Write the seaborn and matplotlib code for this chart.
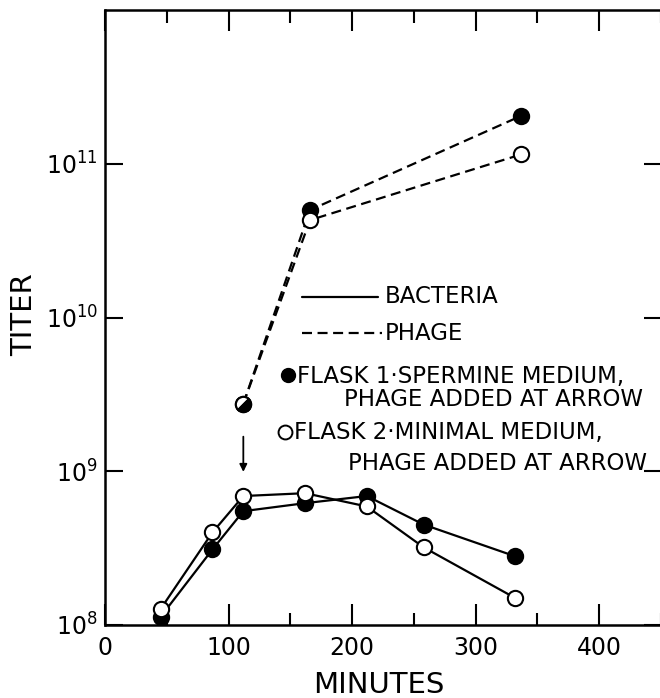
import numpy as np
import pandas as pd
import matplotlib
matplotlib.use("Agg")
import matplotlib.pyplot as plt
import seaborn as sns
from matplotlib.lines import Line2D
from matplotlib.markers import MarkerStyle
from matplotlib.transforms import Affine2D
from matplotlib.ticker import FixedLocator, NullLocator, FixedFormatter

# ---------------- data ----------------
bact_minutes = [45, 87, 112, 162, 212, 258, 332]
bact_flask1 = [1.13e8, 3.1e8, 5.5e8, 6.2e8, 6.9e8, 4.5e8, 2.8e8]
bact_flask2 = [1.27e8, 4.0e8, 6.9e8, 7.2e8, 5.9e8, 3.2e8, 1.5e8]
phage_minutes = [112, 166, 337]
phage_flask1 = [2.75e9, 5.0e10, 2.05e11]
phage_flask2 = [2.75e9, 4.3e10, 1.15e11]
x_ticks = [0, 100, 200, 300, 400]
x_tick_labels = ["0", "100", "200", "300", "400"]
y_ticks = [1e8, 1e9, 1e10, 1e11]
y_tick_labels = [r"$10^{8}$", r"$10^{9}$", r"$10^{10}$", r"$10^{11}$"]
legend_labels = ["BACTERIA", "PHAGE",
                 "FLASK 1·SPERMINE MEDIUM,", "PHAGE ADDED AT ARROW",
                 "FLASK 2·MINIMAL MEDIUM,", "PHAGE ADDED AT ARROW"]

sns.set_style("ticks")
plt.rcParams["font.family"] = ["DejaVu Sans"]
plt.rcParams["mathtext.fontset"] = "dejavusans"
for k in ["text.color", "axes.labelcolor", "xtick.color", "ytick.color",
          "axes.edgecolor"]:
    plt.rcParams[k] = "black"

W, H = 660, 698
fig = plt.figure(figsize=(W / 100, H / 100), dpi=100)
ax = fig.add_axes([105 / W, 1 - 625 / H, (662 - 105) / W, (625 - 10) / H])
ax.set_yscale("log")

bact = pd.DataFrame({"minutes": bact_minutes, "f1": bact_flask1, "f2": bact_flask2})
phage = pd.DataFrame({"minutes": phage_minutes, "f1": phage_flask1, "f2": phage_flask2})

DASH = (0, (4.5, 2.5))
common = dict(color="black", lw=1.6, marker="o", markersize=11,
              markeredgecolor="black", markeredgewidth=1.5, sort=False)
sns.lineplot(data=bact, x="minutes", y="f1", ax=ax, markerfacecolor="black",
             zorder=3, **common)
sns.lineplot(data=bact, x="minutes", y="f2", ax=ax, markerfacecolor="white",
             zorder=4, **common)
sns.lineplot(data=phage, x="minutes", y="f1", ax=ax, markerfacecolor="black",
             linestyle=DASH, zorder=3, **common)
common_open = dict(common)
common_open["markevery"] = [1, 2]
sns.lineplot(data=phage, x="minutes", y="f2", ax=ax, markerfacecolor="white",
             linestyle=DASH, zorder=4, **common_open)
# shared first phage point, half filled (upper-left white, lower-right black)
half = MarkerStyle("o", fillstyle="top", transform=Affine2D().rotate_deg(45))
ax.plot(phage["minutes"][:1], phage["f2"][:1], linestyle="none", marker=half,
        markersize=11, markerfacecolor="white", markerfacecoloralt="black",
        markeredgecolor="black", markeredgewidth=1.5, zorder=5)

# arrow
ax.annotate("", xy=(112, 9.5e8), xytext=(112, 1.75e9),
            arrowprops=dict(arrowstyle="-|>", color="black", lw=1.3,
                            mutation_scale=11))

ax.set_xlim(0, 451)
ax.set_ylim(1e8, 1e12)
ax.xaxis.set_major_locator(FixedLocator(x_ticks))
ax.xaxis.set_major_formatter(FixedFormatter(x_tick_labels))
ax.xaxis.set_minor_locator(FixedLocator([50, 150, 250, 350, 450]))
ax.yaxis.set_major_locator(FixedLocator(y_ticks))
ax.yaxis.set_major_formatter(FixedFormatter(y_tick_labels))
ax.yaxis.set_minor_locator(NullLocator())
ax.tick_params(axis="both", which="both", direction="in", top=True, right=True,
               color="black", width=1.5, labelcolor="black")
ax.tick_params(axis="x", which="major", length=15, pad=8, labelsize=17)
ax.tick_params(axis="x", which="minor", length=9)
ax.tick_params(axis="y", which="major", length=13, pad=5, labelsize=17)
for s in ax.spines.values():
    s.set_linewidth(1.8)
    s.set_color("black")
ax.set_xlabel("")
ax.set_ylabel("")

def F(px, py):
    return px / W, 1 - py / H

fig.text(*F(379, 685), "MINUTES", ha="center", va="center", fontsize=21)
fig.text(*F(24, 315), "TITER", ha="center", va="center", fontsize=21,
         rotation=90)

# legend
FS = 16.5
fig.add_artist(Line2D([302 / W, 378 / W], [1 - 297 / H] * 2, color="black",
                      lw=1.6, transform=fig.transFigure))
fig.text(*F(385, 297), legend_labels[0], ha="left", va="center", fontsize=FS)
fig.add_artist(Line2D([302 / W, 382 / W], [1 - 333 / H] * 2, color="black",
                      lw=1.6, linestyle=DASH, transform=fig.transFigure))
fig.text(*F(385, 333), legend_labels[1], ha="left", va="center", fontsize=FS)
fig.add_artist(Line2D([288 / W], [1 - 375 / H], marker="o", markersize=10,
                      markerfacecolor="black", markeredgecolor="black",
                      transform=fig.transFigure))
fig.text(*F(297, 376), legend_labels[2], ha="left", va="center", fontsize=FS)
fig.text(*F(643, 400), legend_labels[3], ha="right", va="center", fontsize=FS)
fig.add_artist(Line2D([285 / W], [1 - 432 / H], marker="o", markersize=10,
                      markerfacecolor="white", markeredgecolor="black",
                      markeredgewidth=1.4, transform=fig.transFigure))
fig.text(*F(294, 433), legend_labels[4], ha="left", va="center", fontsize=FS)
fig.text(*F(647, 464), legend_labels[5], ha="right", va="center", fontsize=FS)

fig.savefig("out.png", dpi=100)
